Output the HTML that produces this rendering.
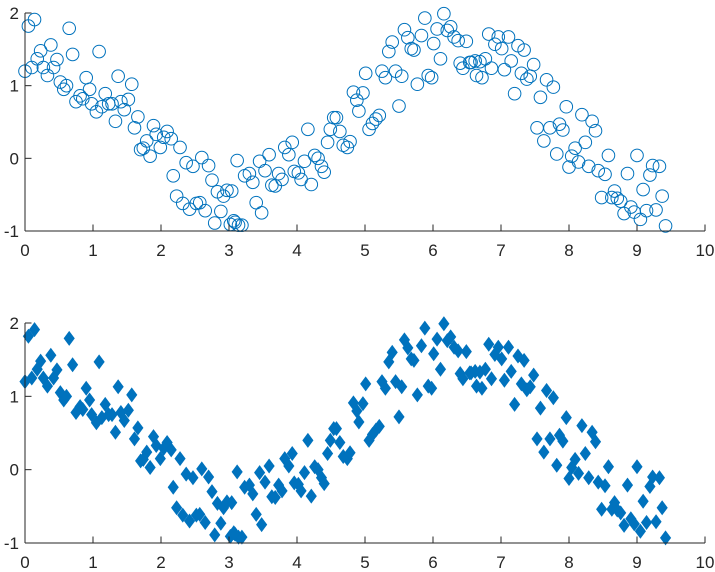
<!DOCTYPE html>
<html><head><meta charset="utf-8">
<style>
html,body{margin:0;padding:0;background:#fff;}
svg{display:block;font-family:"Liberation Sans",Arial,sans-serif;}
text{fill:#262626;font-size:17px;}
</style></head>
<body>
<svg id="chart" width="715" height="572" viewBox="0 0 715 572" xmlns="http://www.w3.org/2000/svg"></svg>
<script>
const xVals=[0,0.05,0.14,0.10,0.18,0.23,0.27,0.33,0.38,0.42,0.47,0.52,0.57,0.61,0.65,0.70,0.75,0.81,0.85,0.90,0.95,0.98,1.05,1.09,1.13,1.18,1.23,1.28,1.33,1.37,1.41,1.46,1.52,1.57,1.61,1.66,1.70,1.74,1.79,1.84,1.89,1.93,1.99,2.04,2.09,2.15,2.18,2.28,2.23,2.32,2.37,2.42,2.47,2.52,2.57,2.60,2.65,2.70,2.75,2.79,2.83,2.88,2.92,2.97,3.02,3.07,3.12,3.14,
3.04,3.09,3.19,3.23,3.30,3.35,3.40,3.48,3.45,3.53,3.59,3.63,3.68,3.73,3.78,3.82,3.88,3.93,3.96,4.02,4.06,4.11,4.16,4.21,4.26,4.31,4.36,4.40,4.45,4.49,4.54,4.58,4.63,4.68,4.74,4.78,4.83,4.88,4.91,4.97,5.01,5.06,5.11,5.16,5.21,5.25,5.30,5.35,5.40,5.45,5.50,5.54,5.58,5.63,5.68,5.72,5.77,5.83,5.88,5.93,5.98,6.01,6.06,6.11,6.16,6.21,6.26,6.31,6.37,6.40,6.44,6.49,6.54,
6.56,6.62,6.64,6.69,6.72,6.77,6.82,6.86,6.91,6.96,7.01,7.05,7.11,7.15,7.20,7.25,7.30,7.34,7.38,7.43,7.48,7.53,7.58,7.63,7.67,7.72,7.77,7.82,7.86,7.91,7.96,8.00,8.04,8.09,8.14,8.19,8.24,8.29,8.34,8.39,8.43,8.48,8.53,8.58,8.63,8.67,8.71,8.76,8.81,8.86,8.91,8.96,9.00,9.05,9.09,9.14,9.19,9.23,9.28,9.33,9.37,9.42];
const yVals=[1.20,1.82,1.91,1.25,1.37,1.48,1.25,1.14,1.56,1.25,1.36,1.05,0.95,1.00,1.79,1.43,0.78,0.86,0.82,1.11,0.95,0.75,0.64,1.47,0.71,0.89,0.75,0.75,0.51,1.13,0.78,0.67,0.81,1.02,0.42,0.57,0.12,0.14,0.24,0.03,0.45,0.33,0.15,0.29,0.37,0.27,-0.24,0.15,-0.52,-0.62,-0.06,-0.70,-0.11,-0.62,-0.61,0.01,-0.72,-0.10,-0.30,-0.89,-0.46,-0.73,-0.52,-0.44,-0.91,-0.86,-0.03,-0.92,
-0.45,-0.88,-0.92,-0.24,-0.21,-0.33,-0.61,-0.75,-0.04,-0.17,0.05,-0.37,-0.38,-0.21,-0.29,0.15,0.05,0.22,-0.18,-0.20,-0.29,-0.04,0.40,-0.36,0.04,0.00,-0.11,-0.19,0.22,0.40,0.56,0.56,0.37,0.18,0.15,0.23,0.91,0.80,0.65,0.90,1.17,0.40,0.48,0.54,0.59,1.20,1.11,1.47,1.60,1.20,0.72,1.13,1.77,1.66,1.51,1.49,1.02,1.69,1.93,1.14,1.11,1.58,1.78,1.37,1.99,1.76,1.81,1.67,1.62,1.31,1.24,1.61,1.32,
1.32,1.34,1.14,1.33,1.11,1.37,1.71,1.24,1.57,1.67,1.51,1.22,1.67,1.34,0.89,1.55,1.17,1.49,1.09,1.13,1.29,0.42,0.84,0.24,1.08,0.42,0.98,0.06,0.47,0.39,0.71,-0.12,0.03,0.14,-0.05,0.60,0.22,-0.11,0.51,0.38,-0.17,-0.54,-0.22,0.04,-0.54,-0.45,-0.55,-0.59,-0.76,-0.21,-0.67,-0.74,0.04,-0.84,-0.43,-0.72,-0.23,-0.10,-0.71,-0.11,-0.52,-0.93];
const xTicks=[0,1,2,3,4,5,6,7,8,9,10];
const yTicks=[-1,0,1,2];
const xTickLabels=["0","1","2","3","4","5","6","7","8","9","10"];
const yTickLabels=["-1","0","1","2"];

const NS="http://www.w3.org/2000/svg";
const svg=document.getElementById('chart');
function mk(tag,attrs,parent){const e=document.createElementNS(NS,tag);for(const k in attrs)e.setAttribute(k,attrs[k]);(parent||svg).appendChild(e);return e;}
const C='#0072BD';
function drawAxes(top,bottom,marker,name){
  const g=mk('g',{});
  
  
  const x0=25,x1=705;
  const sx=v=>x0+(v-0)/(10-0)*(x1-x0);
  const sy=v=>bottom-(v-(-1))/(2-(-1))*(bottom-top);
  const pts=mk('g',{},g);
  
  
  for(let i=0;i<xVals.length;i++){
    const cx=sx(xVals[i]),cy=sy(yVals[i]);
    let m;
    if(marker==='o'){
      m=mk('circle',{cx:cx,cy:cy,r:6.3,fill:'none',stroke:C,'stroke-width':1},pts);
    }else{
      m=mk('polygon',{points:`${cx},${cy-7} ${cx+5.2},${cy} ${cx},${cy+7} ${cx-5.2},${cy}`,fill:C,stroke:C,'stroke-width':0.6},pts);
    }
    
    
  }
  const xa=mk('g',{},g);
  
  
  mk('line',{x1:x0,y1:bottom,x2:x1,y2:bottom,stroke:'#262626','stroke-width':1},xa);
  xTicks.forEach((t,i)=>{
    const x=sx(t);
    mk('line',{x1:x,y1:bottom,x2:x,y2:bottom-6.5,stroke:'#262626','stroke-width':1},xa);
    const tx=mk('text',{x:x,y:bottom+25,'text-anchor':'middle'},xa);
    tx.textContent=xTickLabels[i];
    
    
  });
  const ya=mk('g',{},g);
  
  
  mk('line',{x1:x0,y1:top,x2:x0,y2:bottom,stroke:'#262626','stroke-width':1},ya);
  yTicks.forEach((t,i)=>{
    const y=sy(t);
    mk('line',{x1:x0,y1:y,x2:x0+6.5,y2:y,stroke:'#262626','stroke-width':1},ya);
    const tx=mk('text',{x:x0-6,y:y+6,'text-anchor':'end'},ya);
    tx.textContent=yTickLabels[i];
    
    
  });
}
drawAxes(13,231,'o','top-scatter-axes');
drawAxes(323,543,'d','bottom-scatter-axes');
</script>
</body></html>
